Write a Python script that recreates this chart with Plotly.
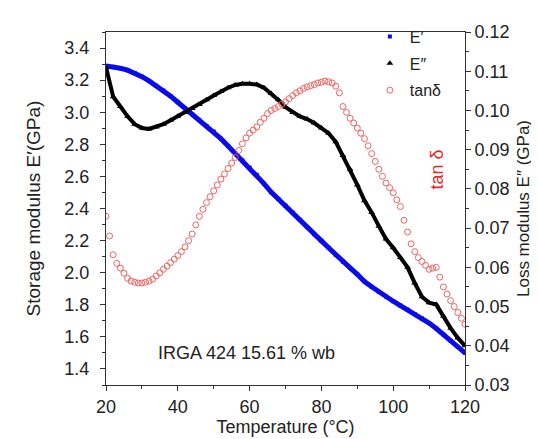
import plotly.graph_objects as go

# temperature grid (°C) for the moduli, 2 degree steps
temps = list(range(20, 122, 2))

# storage modulus E' (GPa), left axis
e_storage = [3.288, 3.283, 3.274, 3.262, 3.245, 3.222, 3.195, 3.165, 3.135, 3.100,
             3.062, 3.025, 2.988, 2.952, 2.915, 2.880, 2.835, 2.790, 2.745, 2.700,
             2.655, 2.610, 2.555, 2.502, 2.460, 2.418, 2.375, 2.330, 2.285, 2.240,
             2.198, 2.155, 2.110, 2.068, 2.030, 1.990, 1.945, 1.912, 1.880, 1.850,
             1.822, 1.795, 1.770, 1.742, 1.715, 1.686, 1.652, 1.615, 1.575, 1.538,
             1.500]

# loss modulus E'' (GPa), right axis
e_loss = [0.1110, 0.1035, 0.1010, 0.0985, 0.0965, 0.0955, 0.0953, 0.0958, 0.0965, 0.0975,
          0.0985, 0.0995, 0.1005, 0.1015, 0.1027, 0.1038, 0.1048, 0.1058, 0.1065, 0.1068,
          0.1068, 0.1066, 0.1058, 0.1043, 0.1027, 0.1008, 0.0995, 0.0985, 0.0978, 0.0968,
          0.0955, 0.0942, 0.0920, 0.0885, 0.0850, 0.0810, 0.0770, 0.0740, 0.0705, 0.0672,
          0.0650, 0.0625, 0.0600, 0.0560, 0.0525, 0.0510, 0.0505, 0.0475, 0.0445, 0.0420,
          0.0400]

# tan delta, 1 degree steps, drawn against the right axis scale
tan_temps = list(range(20, 121))
tan_delta = [0.0730, 0.0680, 0.0632, 0.0610, 0.0598, 0.0585, 0.0572, 0.0565, 0.0562, 0.0560,
             0.0560, 0.0562, 0.0565, 0.0570, 0.0578, 0.0586, 0.0595, 0.0603, 0.0612, 0.0621,
             0.0630, 0.0640, 0.0652, 0.0668, 0.0685, 0.0708, 0.0730, 0.0748, 0.0765, 0.0780,
             0.0795, 0.0810, 0.0825, 0.0838, 0.0852, 0.0866, 0.0880, 0.0898, 0.0915, 0.0930,
             0.0942, 0.0950, 0.0958, 0.0970, 0.0980, 0.0992, 0.1000, 0.1005, 0.1010, 0.1016,
             0.1022, 0.1030, 0.1038, 0.1045, 0.1050, 0.1056, 0.1060, 0.1063, 0.1066, 0.1070,
             0.1072, 0.1075, 0.1073, 0.1070, 0.1062, 0.1045, 0.1010, 0.0995, 0.0980, 0.0968,
             0.0955, 0.0942, 0.0928, 0.0910, 0.0890, 0.0870, 0.0850, 0.0832, 0.0815, 0.0803,
             0.0790, 0.0772, 0.0755, 0.0720, 0.0690, 0.0660, 0.0640, 0.0625, 0.0615, 0.0605,
             0.0595, 0.0598, 0.0600, 0.0575, 0.0550, 0.0532, 0.0515, 0.0500, 0.0485, 0.0470,
             0.0455]

x_ticks = [20, 40, 60, 80, 100, 120]
left_ticks = [1.4, 1.6, 1.8, 2.0, 2.2, 2.4, 2.6, 2.8, 3.0, 3.2, 3.4]
right_ticks = [0.03, 0.04, 0.05, 0.06, 0.07, 0.08, 0.09, 0.10, 0.11, 0.12]

FONT = "Liberation Sans, Arial, sans-serif"
BLUE = "rgb(10,10,235)"
RED = "rgb(238,100,100)"

fig = go.Figure()

# thick bands behind the markers (kept out of the legend)
fig.add_trace(go.Scatter(x=temps, y=e_storage, mode="lines", showlegend=False,
                         line=dict(color=BLUE, width=5), hoverinfo="skip"))
fig.add_trace(go.Scatter(x=temps, y=e_loss, mode="lines", yaxis="y2", showlegend=False,
                         line=dict(color="black", width=4), hoverinfo="skip"))

fig.add_trace(go.Scatter(
    x=temps, y=e_storage, name="E′", mode="markers",
    marker=dict(symbol="square", size=4, color=BLUE),
    legendgroup="a"))

fig.add_trace(go.Scatter(
    x=temps, y=e_loss, name="E″", mode="markers", yaxis="y2",
    marker=dict(symbol="triangle-up", size=6, color="black"),
    legendgroup="b"))

fig.add_trace(go.Scatter(
    x=tan_temps, y=tan_delta, name="tanδ", mode="markers", yaxis="y2",
    marker=dict(symbol="circle-open", size=6, color=RED, line=dict(width=1)),
    legendgroup="c"))

axis_common = dict(
    showline=True, linecolor="#333", linewidth=1,
    ticks="outside", ticklen=5, tickwidth=1, tickcolor="#333",
    showgrid=False, zeroline=False,
    tickfont=dict(family=FONT, size=18, color="#222"),
)

fig.update_layout(
    width=539, height=439,
    margin=dict(l=98, r=82, t=18, b=62),
    paper_bgcolor="white", plot_bgcolor="white",
    font=dict(family=FONT, color="#222"),
    xaxis=dict(
        range=[20, 120], tickvals=x_ticks, mirror=True,
        minor=dict(dtick=10, ticks="outside", ticklen=3, tickcolor="#333"),
        title=dict(text="Temperature (°C)", font=dict(size=18), standoff=2),
        **axis_common),
    yaxis=dict(
        range=[1.3, 3.5], tickvals=left_ticks, tickformat=".1f",
        ticklabelstandoff=7,
        minor=dict(dtick=0.1, ticks="outside", ticklen=3, tickcolor="#333"),
        title=dict(text="Storage modulus E′(GPa)", font=dict(size=19), standoff=18),
        **axis_common),
    yaxis2=dict(
        range=[0.03, 0.12], tickvals=right_ticks, tickformat=".2f",
        overlaying="y", side="right",
        minor=dict(dtick=0.005, ticks="outside", ticklen=3, tickcolor="#333"),
        title=dict(text="Loss modulus E″ (GPa)", font=dict(size=17), standoff=8),
        **axis_common),
    legend=dict(
        x=0.735, y=1.035, xanchor="left", yanchor="top",
        bgcolor="rgba(0,0,0,0)", tracegroupgap=3,
        font=dict(family=FONT, size=16, color="#222"),
    ),
    showlegend=True,
)

fig.add_annotation(
    x=59, y=1.5, xref="x", yref="y", text="IRGA 424 15.61 % wb",
    showarrow=False, font=dict(family=FONT, size=18, color="#222"))

fig.add_annotation(
    x=0.955, y=0.61, xref="paper", yref="paper", text="tan δ", textangle=-90,
    showarrow=False, font=dict(family=FONT, size=18, color="rgb(230,40,40)"))

fig.write_html("out.html")
